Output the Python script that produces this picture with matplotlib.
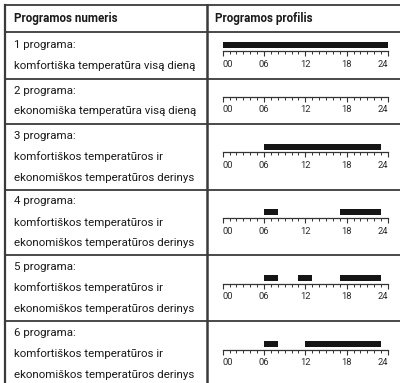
import matplotlib
matplotlib.use("Agg")
import matplotlib.pyplot as plt
import matplotlib.font_manager as fm

# ---------------- data ----------------
header_left = "Programos numeris"
header_right = "Programos profilis"
program_titles = ["1 programa:", "2 programa:", "3 programa:",
                  "4 programa:", "5 programa:", "6 programa:"]
program_desc = [
    ["komfortiška temperatūra visą dieną"],
    ["ekonomiška temperatūra visą dieną"],
    ["komfortiškos temperatūros ir", "ekonomiškos temperatūros derinys"],
    ["komfortiškos temperatūros ir", "ekonomiškos temperatūros derinys"],
    ["komfortiškos temperatūros ir", "ekonomiškos temperatūros derinys"],
    ["komfortiškos temperatūros ir", "ekonomiškos temperatūros derinys"],
]
# comfort periods (start hour, end hour)
comfort_periods = [
    [(0, 24)],
    [],
    [(6, 23)],
    [(6, 8), (17, 23)],
    [(6, 8), (11, 13), (17, 23)],
    [(6, 8), (12, 23)],
]
hour_ticks = [0, 6, 12, 18, 24]
hour_labels = ["00", "06", "12", "18", "24"]

families = ["Liberation Sans Narrow", "Roboto", "DejaVu Sans"]
avail = {f.name for f in fm.fontManager.ttflist}
families = [f for f in families if f in avail]
plt.rcParams["font.family"] = families

W, H = 400, 383
fig = plt.figure(figsize=(W / 100, H / 100), dpi=100)
bg = fig.add_axes([0, 0, 1, 1])
bg.set_xlim(0, W)
bg.set_ylim(H, 0)
bg.axis("off")
renderer = fig.canvas.get_renderer()

def fit_size(text, target_px, weight="normal", start=10.0):
    t = bg.text(0, 0, text, fontsize=start, fontweight=weight)
    w = t.get_window_extent(renderer).width
    t.remove()
    return start * target_px / w

narrow = families[0] == "Liberation Sans Narrow"
size_body = fit_size("ekonomiškos temperatūros derinys", 170 if narrow else 181)
size_head = fit_size("Programos numeris", 100 if narrow else 104, weight="bold")
size_tick = fit_size("00", 8 if narrow else 10.5)

line_col = "#3a3a3a"
text_col = "#1a1a1a"

# ---------------- table grid ----------------
row_lines = [5, 32, 78.5, 123.5, 190, 255, 321, 387]
x_left, x_mid, x_right = 5, 207, 400
for y in row_lines[:-1]:
    bg.plot([x_left, x_right], [y, y], color=line_col, lw=1.3, solid_capstyle="butt")
bg.plot([x_left, x_left], [5, H], color=line_col, lw=1.6)
bg.plot([x_mid, x_mid], [5, H], color=line_col, lw=1.8)

# header
hy = (row_lines[0] + row_lines[1]) / 2
bg.text(14, hy, header_left, fontsize=size_head, fontweight="bold",
        va="center", ha="left", color=text_col)
bg.text(215, hy, header_right, fontsize=size_head, fontweight="bold",
        va="center", ha="left", color=text_col)

# rows
line_gap = 21
for i in range(6):
    top, bot = row_lines[i + 1], row_lines[i + 2]
    cy = (top + bot) / 2
    lines = [program_titles[i]] + program_desc[i]
    n = len(lines)
    for j, s in enumerate(lines):
        y = cy + (j - (n - 1) / 2) * line_gap
        bg.text(14, y, s, fontsize=size_body,
                va="center", ha="left", color=text_col)

    # timeline axis
    axis_y = cy - 4.5
    ax_h = 10
    ax = fig.add_axes([222.7 / W, (H - axis_y) / H, 165.3 / W, ax_h / H])
    ax.set_xlim(0, 24)
    ax.set_ylim(0, ax_h)
    ax.patch.set_alpha(0)
    for sp in ("top", "left", "right"):
        ax.spines[sp].set_visible(False)
    ax.spines["bottom"].set_color("#333333")
    ax.spines["bottom"].set_linewidth(0.9)
    ax.set_yticks([])
    ax.set_xticks(hour_ticks)
    ax.set_xticks(range(25), minor=True)
    ax.set_xticklabels(hour_labels, fontsize=size_tick, color="#2a2a2a")
    ax.tick_params(axis="x", which="major", direction="out", length=3.8, width=0.8,
                   color="#333333", pad=2.6)
    ax.tick_params(axis="x", which="minor", direction="out", length=2.4, width=0.7,
                   color="#333333")
    lbls = ax.get_xticklabels()
    lbls[0].set_ha("left")
    lbls[-1].set_ha("right")
    periods = comfort_periods[i]
    if periods:
        ax.broken_barh([(a, b - a) for a, b in periods], (2.6, 6.0),
                       facecolor="#151515", edgecolor="none")

fig.savefig("out.png", dpi=100)
